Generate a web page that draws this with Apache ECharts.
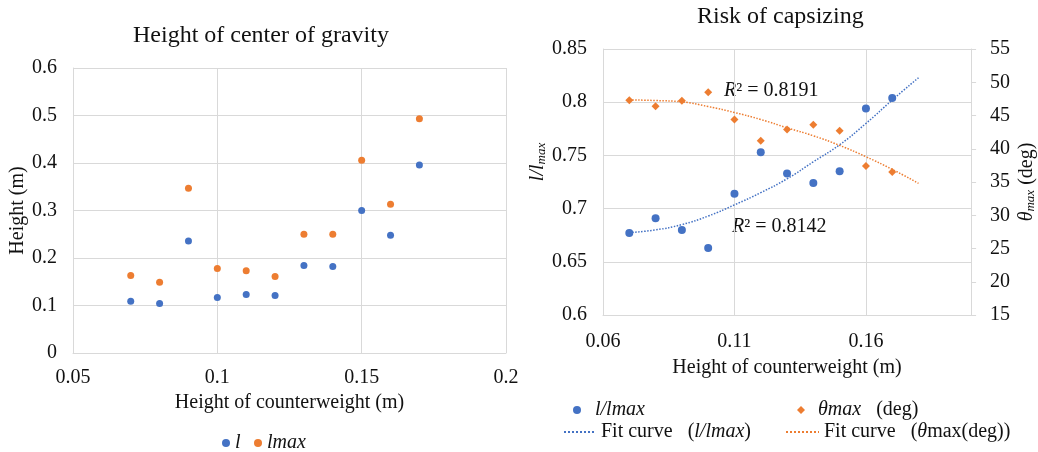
<!DOCTYPE html>
<html>
<head>
<meta charset="utf-8">
<script src="https://cdn.jsdelivr.net/npm/echarts@6/dist/echarts.min.js"></script>
<style>
html, body { margin: 0; padding: 0; background: #fff; }
#main { width: 1038px; height: 452px; }
</style>
</head>
<body>
<div id="main"></div>
<script>
// counterweight heights (m), same for both charts
var heights = [0.07, 0.08, 0.09, 0.10, 0.11, 0.12, 0.13, 0.14, 0.15, 0.16, 0.17];
// left chart: height of centre of gravity (m)
var lVals    = [0.109, 0.104, 0.236, 0.117, 0.123, 0.121, 0.184, 0.182, 0.300, 0.248, 0.396];
var lmaxVals = [0.163, 0.149, 0.347, 0.178, 0.173, 0.161, 0.250, 0.250, 0.406, 0.313, 0.493];
// right chart: l/lmax and theta max (deg)
var ratioVals = [0.677, 0.691, 0.680, 0.663, 0.714, 0.753, 0.733, 0.724, 0.735, 0.794, 0.804];
var thetaVals = [47.3, 46.4, 47.2, 48.5, 44.4, 41.2, 42.9, 43.6, 42.7, 37.4, 36.5];
// trend curves (run one step past the data)
var fitX     = [0.07, 0.08, 0.09, 0.10, 0.11, 0.12, 0.13, 0.14, 0.15, 0.16, 0.17, 0.18];
var ratioFit = [0.6775, 0.680, 0.685, 0.693, 0.7035, 0.715, 0.728, 0.744, 0.760, 0.780, 0.802, 0.823];
var thetaFit = [47.35, 47.25, 47.05, 46.35, 45.45, 44.4, 43.15, 41.95, 40.5, 38.8, 36.9, 34.8];
var r2Theta = '0.8191';
var r2Ratio = '0.8142';

var FONT = 'Liberation Serif';
var TXT = '#111';
var GRID = '#d9d9d9';
var BLUE = '#4472C4';
var ORANGE = '#ED7D31';

function pairs(xs, ys) {
    return xs.map((x, k) => [x, ys[k]]);
}

var legendNames = {
    'l': '{i|l}',
    'lmax': '{i|lmax}',
    'l/lmax': '{i|l/lmax}',
    'θmax (deg)': '{i|θmax}{n|   (deg)}',
    'Fit curve (l/lmax)': '{n|Fit curve   (}{i|l/lmax}{n|)}',
    'Fit curve (θmax(deg))': '{n|Fit curve   (}{i|θ}{n|max(deg))}'
};
var richBase = {
    i: { fontFamily: FONT, fontSize: 20, fontStyle: 'italic', color: TXT },
    n: { fontFamily: FONT, fontSize: 20, color: TXT }
};

function legendAt(name, left, top, opts = {}) {
    return Object.assign({
        data: [name],
        left: left,
        top: top,
        padding: 0,
        itemGap: 0,
        itemWidth: 8,
        itemHeight: 8,
        selectedMode: false,
        formatter: (n) => legendNames[n],
        textStyle: { fontFamily: FONT, fontSize: 20, color: TXT, lineHeight: 20, rich: richBase }
    }, opts);
}

var axisText = { fontFamily: FONT, fontSize: 20, color: TXT };
var nameText = { fontFamily: FONT, fontSize: 20, color: TXT };
// hides the marker that a line series puts in the middle of its legend icon
var noMarker = { color: 'transparent', borderColor: 'transparent', borderWidth: 0 };

var dom = document.getElementById('main');
var myChart = echarts.init(dom);

var option = {
    animation: false,
    backgroundColor: '#fff',
    title: [
        { text: 'Height of center of gravity', left: 133, top: 24, padding: 0,
          textStyle: { fontFamily: FONT, fontSize: 24, fontWeight: 'normal', color: TXT } },
        { text: 'Risk of capsizing', left: 697, top: 5, padding: 0,
          textStyle: { fontFamily: FONT, fontSize: 24, fontWeight: 'normal', color: TXT } }
    ],
    grid: [
        { left: 73, top: 68, width: 433, height: 285 },
        { left: 603, top: 49, width: 370, height: 266 }
    ],
    xAxis: [
        {
            type: 'value', gridIndex: 0, min: 0.05, max: 0.2, interval: 0.05,
            name: 'Height of counterweight (m)', nameLocation: 'middle', nameGap: 40,
            nameTextStyle: nameText,
            axisLine: { show: true, lineStyle: { color: GRID } },
            axisTick: { show: false },
            axisLabel: Object.assign({ margin: 15 }, axisText),
            splitLine: { show: true, lineStyle: { color: GRID } }
        },
        {
            type: 'value', gridIndex: 1, min: 0.06, max: 0.2, interval: 0.05,
            name: 'Height of counterweight (m)', nameLocation: 'middle', nameGap: 43,
            nameTextStyle: nameText,
            axisLine: { show: true, lineStyle: { color: GRID } },
            axisTick: { show: false },
            axisLabel: Object.assign({ margin: 17, showMaxLabel: false }, axisText),
            splitLine: { show: true, lineStyle: { color: GRID } }
        }
    ],
    yAxis: [
        {
            type: 'value', gridIndex: 0, min: 0, max: 0.6, interval: 0.1,
            name: 'Height (m)', nameLocation: 'middle', nameGap: 45,
            nameTextStyle: nameText,
            axisLine: { show: true, lineStyle: { color: GRID } },
            axisTick: { show: false },
            axisLabel: Object.assign({ margin: 16 }, axisText),
            splitLine: { show: true, lineStyle: { color: GRID } }
        },
        {
            type: 'value', gridIndex: 1, min: 0.6, max: 0.85, interval: 0.05,
            name: '{i|l/l}{s|max}', nameLocation: 'middle', nameGap: 52,
            nameTextStyle: {
                fontFamily: FONT, fontSize: 20, color: TXT, padding: [0, 0, 0, 40],
                rich: {
                    i: { fontFamily: FONT, fontSize: 20, fontStyle: 'italic', color: TXT, lineHeight: 20, verticalAlign: 'top' },
                    s: { fontFamily: FONT, fontSize: 13, fontStyle: 'italic', color: TXT, lineHeight: 13, verticalAlign: 'bottom', padding: [10, 0, 0, 0] }
                }
            },
            axisLine: { show: true, lineStyle: { color: GRID } },
            axisTick: { show: false },
            axisLabel: Object.assign({ margin: 16 }, axisText),
            splitLine: { show: true, lineStyle: { color: GRID } }
        },
        {
            type: 'value', gridIndex: 1, position: 'right', min: 15, max: 55, interval: 5,
            name: '{i|θ}{s|max}{n| (deg)}', nameLocation: 'middle', nameGap: 44,
            nameTextStyle: {
                fontFamily: FONT, fontSize: 20, color: TXT,
                rich: {
                    i: { fontFamily: FONT, fontSize: 20, fontStyle: 'italic', color: TXT, lineHeight: 20, verticalAlign: 'top' },
                    s: { fontFamily: FONT, fontSize: 13, fontStyle: 'italic', color: TXT, lineHeight: 13, verticalAlign: 'bottom', padding: [10, 0, 0, 0] },
                    n: { fontFamily: FONT, fontSize: 20, color: TXT, lineHeight: 20, verticalAlign: 'top' }
                }
            },
            axisLine: { show: true, lineStyle: { color: GRID } },
            axisTick: { show: true, length: 5, lineStyle: { color: GRID } },
            axisLabel: Object.assign({ margin: 19 }, axisText),
            splitLine: { show: false }
        }
    ],
    legend: [
        legendAt({ name: 'l', icon: 'circle' }, 222, 433),
        legendAt({ name: 'lmax', icon: 'circle' }, 254, 433),
        legendAt({ name: 'l/lmax', icon: 'circle' }, 573, 400, { textStyle: { fontFamily: FONT, fontSize: 20, color: TXT, lineHeight: 20, padding: [0, 0, 0, 9], rich: richBase } }),
        legendAt({ name: 'θmax (deg)', icon: 'diamond' }, 797, 400, { textStyle: { fontFamily: FONT, fontSize: 20, color: TXT, lineHeight: 20, padding: [0, 0, 0, 8], rich: richBase } }),
        legendAt('Fit curve (l/lmax)', 563, 422, { itemWidth: 32, itemHeight: 10, itemStyle: noMarker }),
        legendAt('Fit curve (θmax(deg))', 785, 422, { itemWidth: 33, itemHeight: 10, itemStyle: noMarker })
    ],
    graphic: [
        { type: 'text', left: 724, top: 81,
          style: { text: '{i|R}{n|² = ' + r2Theta + '}', rich: richBase, fill: TXT } },
        { type: 'text', left: 732, top: 217,
          style: { text: '{i|R}{n|² = ' + r2Ratio + '}', rich: richBase, fill: TXT } }
    ],
    series: [
        { name: 'l', type: 'scatter', xAxisIndex: 0, yAxisIndex: 0, symbol: 'circle', symbolSize: 7,
          itemStyle: { color: BLUE, opacity: 1 }, data: pairs(heights, lVals) },
        { name: 'lmax', type: 'scatter', xAxisIndex: 0, yAxisIndex: 0, symbol: 'circle', symbolSize: 7,
          itemStyle: { color: ORANGE, opacity: 1 }, data: pairs(heights, lmaxVals) },
        { name: 'Fit curve (l/lmax)', type: 'line', xAxisIndex: 1, yAxisIndex: 1, smooth: true,
          symbol: 'none', showSymbol: false, color: BLUE,
          lineStyle: { color: BLUE, width: 1.5, type: 'dotted' }, data: pairs(fitX, ratioFit) },
        { name: 'Fit curve (θmax(deg))', type: 'line', xAxisIndex: 1, yAxisIndex: 2, smooth: true,
          symbol: 'none', showSymbol: false, color: ORANGE,
          lineStyle: { color: ORANGE, width: 1.5, type: 'dotted' }, data: pairs(fitX, thetaFit) },
        { name: 'l/lmax', type: 'scatter', xAxisIndex: 1, yAxisIndex: 1, symbol: 'circle', symbolSize: 8,
          itemStyle: { color: BLUE, opacity: 1 }, data: pairs(heights, ratioVals) },
        { name: 'θmax (deg)', type: 'scatter', xAxisIndex: 1, yAxisIndex: 2, symbol: 'diamond', symbolSize: 8,
          itemStyle: { color: ORANGE, opacity: 1 }, data: pairs(heights, thetaVals) }
    ]
};

myChart.setOption(option);
</script>
</body>
</html>
